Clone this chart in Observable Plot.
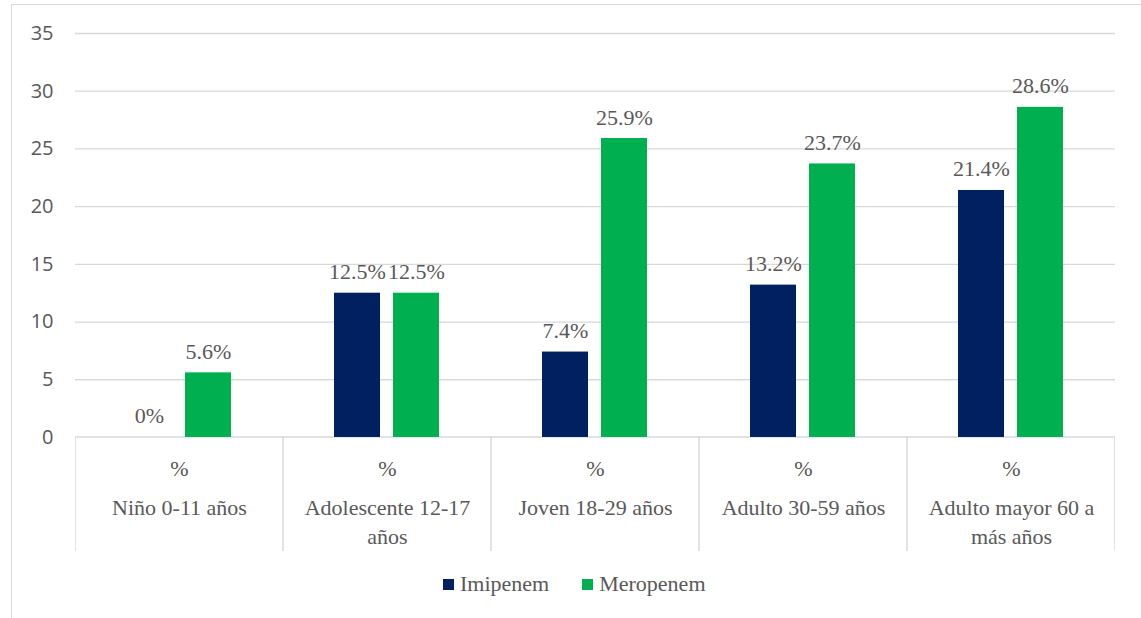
<!DOCTYPE html>
<html>
<head>
<meta charset="utf-8">
<script src="https://cdn.jsdelivr.net/npm/d3@7"></script>
<script src="https://cdn.jsdelivr.net/npm/@observablehq/plot@0.6"></script>
<style>
  html, body { margin: 0; padding: 0; width: 1141px; height: 618px; overflow: hidden; background: #fff; }
  #border { position: absolute; left: 11px; top: 4px; width: 1300px; height: 800px; border: 1px solid #d9d9d9; box-sizing: border-box; }
  #chart { position: absolute; left: 0; top: 0; }
  #legend { position: absolute; left: 443px; top: 571px; display: flex; align-items: center; font-size: 22px; color: #595959; font-family: 'Liberation Serif'; }
  .item { display: flex; align-items: center; margin-right: 33px; }
  .sw { width: 11px; height: 11px; margin-right: 6px; }
</style>
</head>
<body>
<div id="border"></div>
<div id="chart"></div>
<div id="legend">
  <div class="item"><div class="sw" style="background:#002060"></div><span style="font-family:'Liberation Serif'">Imipenem</span></div>
  <div class="item"><div class="sw" style="background:#00B050"></div><span style="font-family:'Liberation Serif'">Meropenem</span></div>
</div>
<script>
const categories = ["Niño 0-11 años", "Adolescente 12-17 años", "Joven 18-29 años", "Adulto 30-59 años", "Adulto mayor 60 a más años"];
const categoryLines = ["Niño 0-11 años", "Adolescente 12-17\naños", "Joven 18-29 años", "Adulto 30-59 años", "Adulto mayor 60 a\nmás años"];
const series = ["Imipenem", "Meropenem"];
const colors = ["#002060", "#00B050"];
const imipenem = [0, 12.5, 7.4, 13.2, 21.4];
const meropenem = [5.6, 12.5, 25.9, 23.7, 28.6];
const imipenemLabels = ["0%", "12.5%", "7.4%", "13.2%", "21.4%"];
const meropenemLabels = ["5.6%", "12.5%", "25.9%", "23.7%", "28.6%"];
const yTicks = [0, 5, 10, 15, 20, 25, 30, 35];
const rowLabel = "%";
const tableDepth = 9.88;
const serif = "Liberation Serif";

const rows = [];
categories.forEach((c, i) => {
  rows.push({category: c, series: series[0], value: imipenem[i], label: imipenemLabels[i]});
  rows.push({category: c, series: series[1], value: meropenem[i], label: meropenemLabels[i]});
});
const cats = categories.map((c, i) => ({category: c, lines: categoryLines[i]}));

const chart = Plot.plot({
  width: 1141, height: 575,
  marginLeft: 75, marginRight: 26, marginTop: 33, marginBottom: 24,
  style: {fontFamily: "Liberation Serif", fontSize: "22px", color: "#595959", background: "transparent"},
  fx: {domain: categories, padding: 0, axis: null},
  x: {domain: series, paddingInner: 0.22, paddingOuter: 0.87, axis: null},
  y: {domain: [-tableDepth, 35], axis: null},
  color: {domain: series, range: colors},
  marks: [
    Plot.gridY(yTicks.filter(t => t > 0), {stroke: "#d9d9d9", strokeOpacity: 1, strokeWidth: 1.3}),
    Plot.axisY(yTicks, {tickSize: 0, tickPadding: 22, fontFamily: "Open Sans", fontSize: 20, color: "#595959", label: null}),
    Plot.rect(cats, {fx: "category", y1: 0, y2: -tableDepth - 2, stroke: "#d9d9d9", strokeWidth: 1.5, fill: "none", clip: true}),
    Plot.barY(rows, {fx: "category", x: "series", y: "value", fill: "series"}),
    Plot.text(rows, {fx: "category", x: "series", y: "value", text: "label", lineAnchor: "bottom", dy: -14, fill: "#595959", fontFamily: serif}),
    Plot.text(cats, {fx: "category", y: 0, text: () => rowLabel, dy: 31, lineAnchor: "middle", fill: "#595959", fontFamily: serif}),
    Plot.text(cats, {fx: "category", y: 0, text: "lines", dy: 57, lineAnchor: "top", lineHeight: 1.32, fill: "#595959", fontFamily: serif})
  ]
});
document.getElementById("chart").appendChild(chart);
</script>
</body>
</html>
